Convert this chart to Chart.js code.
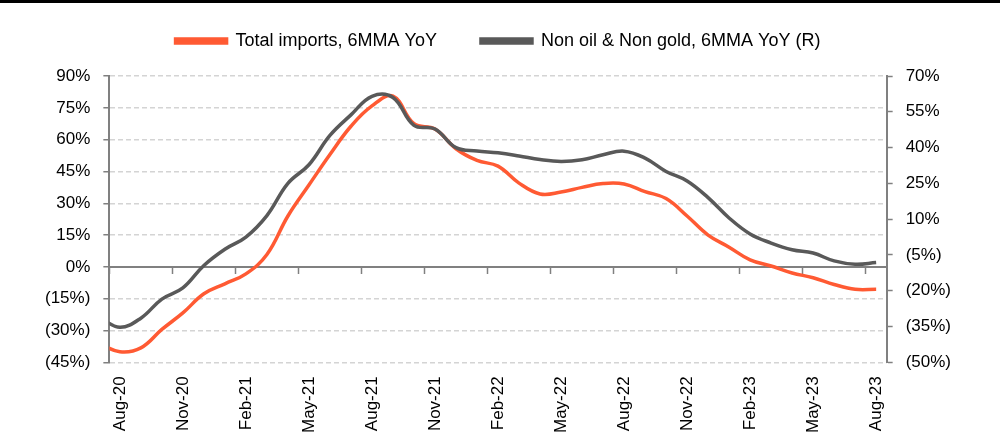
<!DOCTYPE html>
<html>
<head>
<meta charset="utf-8">
<script src="https://cdn.jsdelivr.net/npm/chart.js@4.4.1/dist/chart.umd.min.js"></script>
<style>
  html, body { margin: 0; padding: 0; background: #fff; }
  #wrap { position: relative; width: 1000px; height: 437px; }
  #topline { position: absolute; left: 0; top: 0; width: 1000px; height: 3px; background: #000; }
</style>
</head>
<body>
<div id="wrap">
  <canvas id="myChart" width="1000" height="437"></canvas>
  <div id="topline"></div>
</div>
<script>
'use strict';
// months Jul-20 .. Aug-23 (Jul-20 only used so the line starts at the left edge)
const months = ['Jul-20','Aug-20','Sep-20','Oct-20','Nov-20','Dec-20','Jan-21','Feb-21','Mar-21','Apr-21','May-21','Jun-21',
  'Jul-21','Aug-21','Sep-21','Oct-21','Nov-21','Dec-21','Jan-22','Feb-22','Mar-22','Apr-22','May-22','Jun-22',
  'Jul-22','Aug-22','Sep-22','Oct-22','Nov-22','Dec-22','Jan-23','Feb-23','Mar-23','Apr-23','May-23','Jun-23',
  'Jul-23','Aug-23'];

// Total imports, 6MMA YoY (%), left axis
const totalImports = [-36, -40, -38.2, -29.5, -21.7, -12.7, -8, -3.3, 5.8, 24, 38.6, 53, 66.3,
  75.9, 80.5, 67.5, 65, 55.7, 50.2, 47.5, 39.5, 34.4, 35.3, 37.5, 39.3,
  39.1, 35.5, 32.2, 24, 15, 9.3, 3.3, 0.4, -2.9, -5.1, -8.3, -10.6, -10.6];

// Non oil & Non gold, 6MMA YoY (%), right axis
const nonOilGold = [-31, -35.3, -31.5, -23.5, -18.8, -9.4, -2.6, 2.5, 11.5, 25, 32.8, 45.1, 53.7,
  61.5, 61, 49.3, 47.8, 40, 38.6, 37.8, 36.5, 35, 34.2, 34.9, 37,
  38.5, 35.6, 30, 26, 19, 10.5, 3.8, 0, -2.8, -4.2, -7.5, -8.9, -8.2];

const seriesNames = ['Total imports, 6MMA YoY', 'Non oil & Non gold, 6MMA YoY (R)'];
const leftTicks = [-45, -30, -15, 0, 15, 30, 45, 60, 75, 90];
const rightTicks = [-50, -35, -20, -5, 10, 25, 40, 55, 70];

function pct(v) {
  return v < 0 ? '(' + (-v) + '%)' : v + '%';
}
function toPoints(arr) {
  return arr.map((v, i) => ({x: i, y: v}));
}

Chart.defaults.font.family = "'Liberation Sans', Arial, sans-serif";
Chart.defaults.font.size = 17;
Chart.defaults.color = '#000';

const axisGrey = '#808080';

// keep a fixed gap under the legend
const legendGap = {
  id: 'legendGap',
  beforeInit(chart) {
    const fit = chart.legend.fit;
    chart.legend.fit = function() {
      fit.call(this);
      this.height = 88;
    };
  }
};

const ctx = document.getElementById('myChart').getContext('2d');
const chart = new Chart(ctx, {
  type: 'line',
  data: {
    datasets: [{
      label: seriesNames[0],
      data: toPoints(totalImports),
      borderColor: '#FF5A33',
      backgroundColor: '#FF5A33',
      borderWidth: 3.5,
      pointRadius: 0,
      tension: 0.4,
      yAxisID: 'y',
      xAxisID: 'x',
      order: 2
    }, {
      label: seriesNames[1],
      data: toPoints(nonOilGold),
      borderColor: '#595959',
      backgroundColor: '#595959',
      borderWidth: 3.5,
      pointRadius: 0,
      tension: 0.4,
      yAxisID: 'y1',
      xAxisID: 'x',
      order: 1
    }]
  },
  plugins: [legendGap],
  options: {
    responsive: false,
    animation: false,
    layout: { padding: { top: -12, left: 32, right: 36, bottom: -2 } },
    plugins: {
      tooltip: { enabled: false },
      legend: {
        position: 'top',
        labels: {
          boxWidth: 51,
          boxHeight: 4,
          padding: 44,
          font: { size: 18 },
          sort: (a, b) => a.datasetIndex - b.datasetIndex
        }
      }
    },
    scales: {
      x: {
        type: 'linear',
        position: 'bottom',
        min: 0.5,
        max: 37.5,
        afterBuildTicks: (scale) => {
          const t = [];
          for (let i = 1; i < months.length; i += 3) t.push({value: i});
          scale.ticks = t;
        },
        ticks: {
          minRotation: 90,
          maxRotation: 90,
          padding: 6,
          autoSkip: false,
          callback: (v) => months[v]
        },
        grid: { display: false },
        border: { display: false }
      },
      x2: {
        type: 'linear',
        position: { y: 0 },
        min: 0.5,
        max: 37.5,
        afterBuildTicks: (scale) => {
          const t = [];
          for (let i = 0.5; i < 37; i += 3) t.push({value: i});
          scale.ticks = t;
        },
        ticks: { display: false },
        grid: { drawOnChartArea: false, tickLength: 6, tickColor: axisGrey, tickWidth: 1.5 },
        border: { display: true, color: axisGrey, width: 2 }
      },
      y: {
        position: 'left',
        min: -45,
        max: 90,
        afterBuildTicks: (scale) => { scale.ticks = leftTicks.map(v => ({value: v})); },
        ticks: { padding: 13, callback: (v) => pct(v) },
        grid: {
          color: (c) => c.tick && c.tick.value === 0 ? 'rgba(0,0,0,0)' : '#d4d4d4',
          lineWidth: 1.5,
          tickLength: 6,
          tickColor: axisGrey,
          tickWidth: 1.5
        },
        border: { display: true, color: axisGrey, width: 2, dash: [5, 3] }
      },
      y1: {
        position: 'right',
        min: -50,
        max: 70,
        afterBuildTicks: (scale) => { scale.ticks = rightTicks.map(v => ({value: v})); },
        ticks: { padding: 13, callback: (v) => pct(v) },
        grid: { drawOnChartArea: false, tickLength: 6, tickColor: axisGrey, tickWidth: 1.5 },
        border: { display: true, color: axisGrey, width: 2 }
      }
    }
  }
});
</script>
</body>
</html>
